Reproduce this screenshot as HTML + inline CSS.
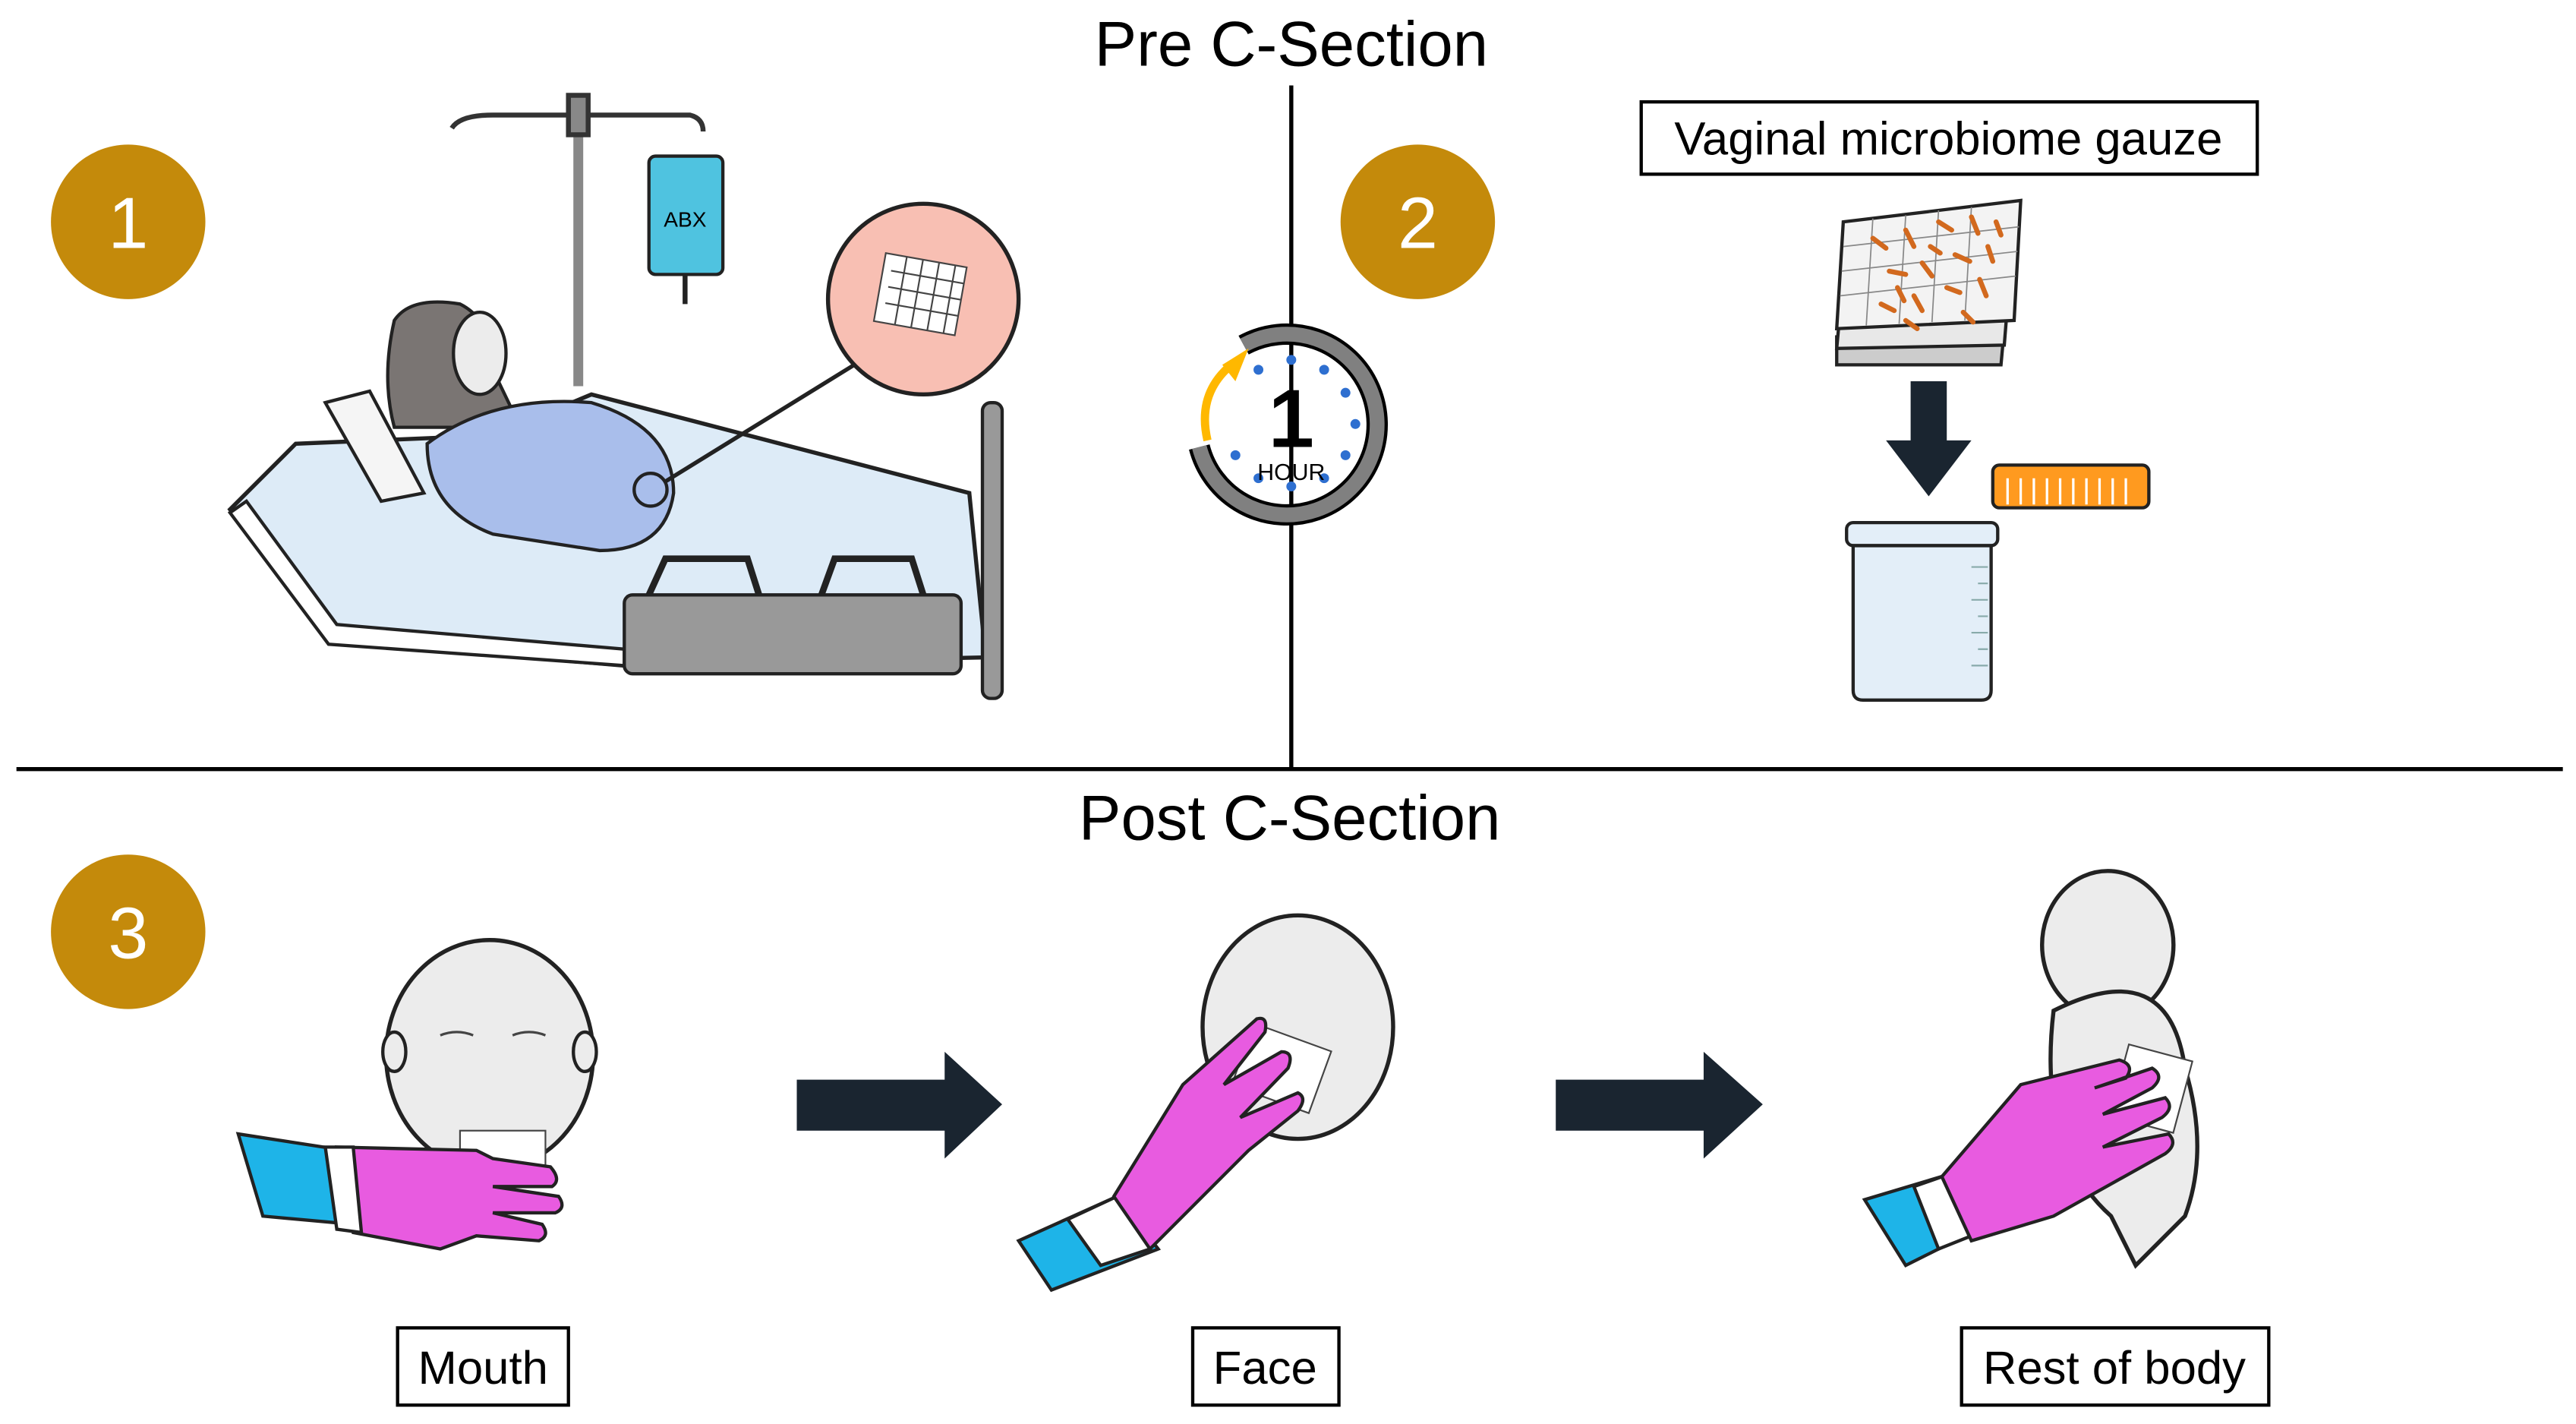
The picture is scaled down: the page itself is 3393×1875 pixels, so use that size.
<!DOCTYPE html>
<html><head><meta charset="utf-8"><style>
html,body{margin:0;padding:0;background:#fff;}
svg{display:block;}
text{font-family:"Liberation Sans",sans-serif;}
</style></head><body>
<svg width="3393" height="1875" viewBox="0 0 1568 866.5" xmlns="http://www.w3.org/2000/svg">
<rect width="1568" height="866.5" fill="#fff"/>
<text x="786" y="40" font-size="38.5" text-anchor="middle">Pre C-Section</text>
<text x="785" y="511" font-size="38.5" text-anchor="middle">Post C-Section</text>
<line x1="786" y1="52" x2="786" y2="468" stroke="#000" stroke-width="2.5"/>
<line x1="10" y1="468" x2="1560" y2="468" stroke="#000" stroke-width="2.5"/>
<g font-size="44" text-anchor="middle">
<circle cx="78" cy="135" r="47" fill="#C48A0B"/><text x="78" y="151" fill="#fff">1</text>
<circle cx="863" cy="135" r="47" fill="#C48A0B"/><text x="863" y="151" fill="#fff">2</text>
<circle cx="78" cy="567" r="47" fill="#C48A0B"/><text x="78" y="583" fill="#fff">3</text>
</g>
<!-- IV pole -->
<g stroke="#333" stroke-width="3" fill="none">
<line x1="352" y1="62" x2="352" y2="235" stroke="#888" stroke-width="6"/>
<path d="M275 78 Q280 70 300 70 L420 70 Q428 72 428 80" />
<rect x="346" y="58" width="12" height="24" fill="#888"/>
</g>
<rect x="395" y="95" width="45" height="72" rx="4" fill="#4FC3E0" stroke="#222" stroke-width="2"/>
<text x="417" y="138" font-size="13" text-anchor="middle">ABX</text>
<line x1="417" y1="167" x2="417" y2="185" stroke="#222" stroke-width="3"/>
<!-- bed -->
<path d="M140 310 L180 270 L300 265 L360 240 L590 300 L600 400 L380 405 L200 390 Z" fill="#DDEBF7" stroke="#222" stroke-width="2.5"/>
<path d="M140 312 L200 392 L380 405 L380 395 L205 380 L150 305 Z" fill="#fff" stroke="#222" stroke-width="2"/>
<rect x="380" y="362" width="205" height="48" rx="5" fill="#999" stroke="#222" stroke-width="2"/>
<rect x="598" y="245" width="12" height="180" rx="5" fill="#999" stroke="#222" stroke-width="2"/>
<path d="M395 362 L405 340 L455 340 L462 362 M500 362 L508 340 L555 340 L562 362" fill="none" stroke="#222" stroke-width="4"/>
<!-- patient -->
<path d="M198 245 L225 238 L258 300 L232 305 Z" fill="#f5f5f5" stroke="#222" stroke-width="2"/>
<path d="M240 195 Q250 180 280 185 Q300 195 300 225 L312 250 L280 260 L240 260 Q232 230 240 195Z" fill="#7A7573" stroke="#222" stroke-width="2"/>
<ellipse cx="292" cy="215" rx="16" ry="25" fill="#ececec" stroke="#222" stroke-width="2"/>
<path d="M260 270 Q300 240 360 245 Q410 260 410 300 Q405 335 365 335 L300 325 Q260 310 260 270Z" fill="#A9BEEB" stroke="#222" stroke-width="2"/>
<circle cx="396" cy="298" r="10" fill="none" stroke="#222" stroke-width="2"/>
<line x1="405" y1="293" x2="520" y2="222" stroke="#222" stroke-width="2.5"/>
<circle cx="562" cy="182" r="58" fill="#F8BFB3" stroke="#222" stroke-width="2.5"/>
<g stroke="#444" stroke-width="1"><rect x="535" y="158" width="50" height="42" fill="#fff" transform="rotate(10 560 180)"/>
<path d="M540 168 h45 M540 178 h45 M540 188 h45 M548 158 v42 M558 158 v42 M568 158 v42 M578 158 v42" transform="rotate(10 560 180)"/></g>
<!-- clock -->
<path d="M730 272 A55 55 0 1 0 757 210" fill="none" stroke="#000" stroke-width="13"/>
<path d="M730 272 A55 55 0 1 0 757 210" fill="none" stroke="#808080" stroke-width="9"/>
<path d="M735 268 Q728 238 752 220" fill="none" stroke="#FFB800" stroke-width="5"/>
<polygon points="744,222 760,212 752,232" fill="#FFB800"/>
<g fill="#2E6FD0"><circle cx="786" cy="219" r="3"/><circle cx="806" cy="225" r="3"/><circle cx="819" cy="239" r="3"/><circle cx="825" cy="258" r="3"/><circle cx="819" cy="277" r="3"/><circle cx="806" cy="291" r="3"/><circle cx="786" cy="296" r="3"/><circle cx="766" cy="291" r="3"/><circle cx="752" cy="277" r="3"/><circle cx="766" cy="225" r="3"/></g>
<text x="786" y="272" font-size="50" font-weight="bold" text-anchor="middle">1</text>
<text x="786" y="292" font-size="14" text-anchor="middle">HOUR</text>
<!-- gauze -->
<rect x="999" y="62" width="375" height="44" fill="#fff" stroke="#000" stroke-width="2"/>
<text x="1186" y="94" font-size="28.5" text-anchor="middle">Vaginal microbiome gauze</text>
<path d="M1118 205 L1220 200 L1218 222 L1118 222 Z" fill="#ccc" stroke="#222" stroke-width="2"/>
<path d="M1120 190 L1222 185 L1220 210 L1118 212 Z" fill="#e8e8e8" stroke="#222" stroke-width="2"/>
<path d="M1122 135 L1230 122 L1226 195 L1118 200 Z" fill="#f3f3f3" stroke="#222" stroke-width="2"/>
<g stroke="#888" stroke-width="0.8"><path d="M1122 150 L1229 138 M1121 165 L1228 153 M1120 180 L1227 168 M1140 133 L1136 198 M1160 131 L1156 197 M1180 128 L1176 196 M1200 126 L1196 195"/></g>
<g stroke="#D2691E" stroke-width="3" stroke-linecap="round">
<path d="M1140 145 l8 6 M1160 140 l5 10 M1180 135 l8 5 M1200 132 l4 10 M1150 165 l10 2 M1170 160 l6 8 M1190 155 l9 4 M1210 150 l3 9 M1145 185 l8 4 M1165 180 l5 9 M1185 175 l8 3 M1205 170 l4 10 M1160 195 l7 5 M1195 190 l6 6 M1175 150 l6 4 M1155 175 l4 8 M1215 135 l3 8"/></g>
<polygon points="1163,232 1185,232 1185,268 1200,268 1174,302 1148,268 1163,268" fill="#1a2530"/>
<rect x="1213" y="283" width="95" height="26" rx="4" fill="#FF9A1F" stroke="#222" stroke-width="2"/>
<g stroke="#fff" stroke-width="1.5"><path d="M1222 291 v16 M1230 291 v16 M1238 291 v16 M1246 291 v16 M1254 291 v16 M1262 291 v16 M1270 291 v16 M1278 291 v16 M1286 291 v16 M1294 291 v16"/></g>
<rect x="1124" y="318" width="92" height="14" rx="4" fill="#E3EEF8" stroke="#222" stroke-width="2"/>
<path d="M1128 332 L1212 332 L1212 420 Q1212 426 1206 426 L1134 426 Q1128 426 1128 420 Z" fill="#E3EEF8" stroke="#222" stroke-width="2"/>
<g stroke="#8aa" stroke-width="1"><path d="M1200 345 h10 M1204 355 h6 M1200 365 h10 M1204 375 h6 M1200 385 h10 M1204 395 h6 M1200 405 h10"/></g>
<!-- arrows -->
<polygon points="485,657 575,657 575,640 610,672 575,705 575,688 485,688" fill="#1a2530"/>
<polygon points="947,657 1037,657 1037,640 1073,672 1037,705 1037,688 947,688" fill="#1a2530"/>
<!-- baby 1 -->
<ellipse cx="298" cy="642" rx="63" ry="70" fill="#ececec" stroke="#222" stroke-width="2.5"/>
<ellipse cx="240" cy="640" rx="7" ry="12" fill="#ececec" stroke="#222" stroke-width="2"/>
<ellipse cx="356" cy="640" rx="7" ry="12" fill="#ececec" stroke="#222" stroke-width="2"/>
<path d="M268 630 q10 -4 20 0 M312 630 q10 -4 20 0" fill="none" stroke="#444" stroke-width="1.5"/>
<rect x="280" y="688" width="52" height="22" fill="#fff" stroke="#444" stroke-width="1"/>
<path d="M145 690 L210 700 L215 745 L160 740 Z" fill="#1EB4E8" stroke="#222" stroke-width="2"/>
<path d="M205 698 L290 700 L300 705 L335 710 Q342 718 336 722 L300 722 L340 728 Q345 735 338 738 L300 738 L330 745 Q335 752 328 755 L290 752 L268 760 L215 750 Z" fill="#E85BE0" stroke="#222" stroke-width="2"/>
<path d="M198 698 L215 698 L220 750 L205 748Z" fill="#fff" stroke="#222" stroke-width="2"/>
<!-- baby 2 -->
<ellipse cx="790" cy="625" rx="58" ry="68" fill="#ececec" stroke="#222" stroke-width="2.5"/>
<rect x="755" y="630" width="50" height="40" fill="#fff" stroke="#444" stroke-width="1" transform="rotate(20 780 650)"/>
<path d="M620 755 L680 728 L705 760 L640 785 Z" fill="#1EB4E8" stroke="#222" stroke-width="2"/>
<path d="M650 742 L680 728 L700 760 L670 770 Z" fill="#fff" stroke="#222" stroke-width="2"/>
<path d="M678 728 L720 660 L765 620 Q772 618 770 628 L745 660 L780 640 Q788 640 784 650 L755 680 L790 665 Q796 668 790 676 L760 700 L700 760 Z" fill="#E85BE0" stroke="#222" stroke-width="2"/>
<!-- baby 3 -->
<ellipse cx="1283" cy="575" rx="40" ry="45" fill="#ececec" stroke="#222" stroke-width="2.5"/>
<path d="M1250 615 Q1320 580 1330 650 Q1345 700 1330 740 L1300 770 L1285 740 Q1240 700 1250 615Z" fill="#ececec" stroke="#222" stroke-width="2.5"/>
<rect x="1290" y="640" width="40" height="45" fill="#fff" stroke="#444" stroke-width="1" transform="rotate(15 1310 660)"/>
<path d="M1135 730 L1185 715 L1200 750 L1160 770 Z" fill="#1EB4E8" stroke="#222" stroke-width="2"/>
<path d="M1165 722 L1185 715 L1200 752 L1180 760 Z" fill="#fff" stroke="#222" stroke-width="2"/>
<path d="M1182 716 L1230 660 L1290 645 Q1300 648 1294 656 L1275 662 L1310 650 Q1318 655 1310 662 L1280 678 L1318 668 Q1324 674 1316 680 L1280 698 L1320 690 Q1326 696 1318 702 L1250 740 L1200 755 Z" fill="#E85BE0" stroke="#222" stroke-width="2"/>
<!-- labels -->
<rect x="242" y="808" width="104" height="47" fill="#fff" stroke="#000" stroke-width="2"/>
<text x="294" y="842" font-size="28.5" text-anchor="middle">Mouth</text>
<rect x="726" y="808" width="89" height="47" fill="#fff" stroke="#000" stroke-width="2"/>
<text x="770" y="842" font-size="28.5" text-anchor="middle">Face</text>
<rect x="1194" y="808" width="187" height="47" fill="#fff" stroke="#000" stroke-width="2"/>
<text x="1287" y="842" font-size="28.5" text-anchor="middle">Rest of body</text>
</svg>
</body></html>
